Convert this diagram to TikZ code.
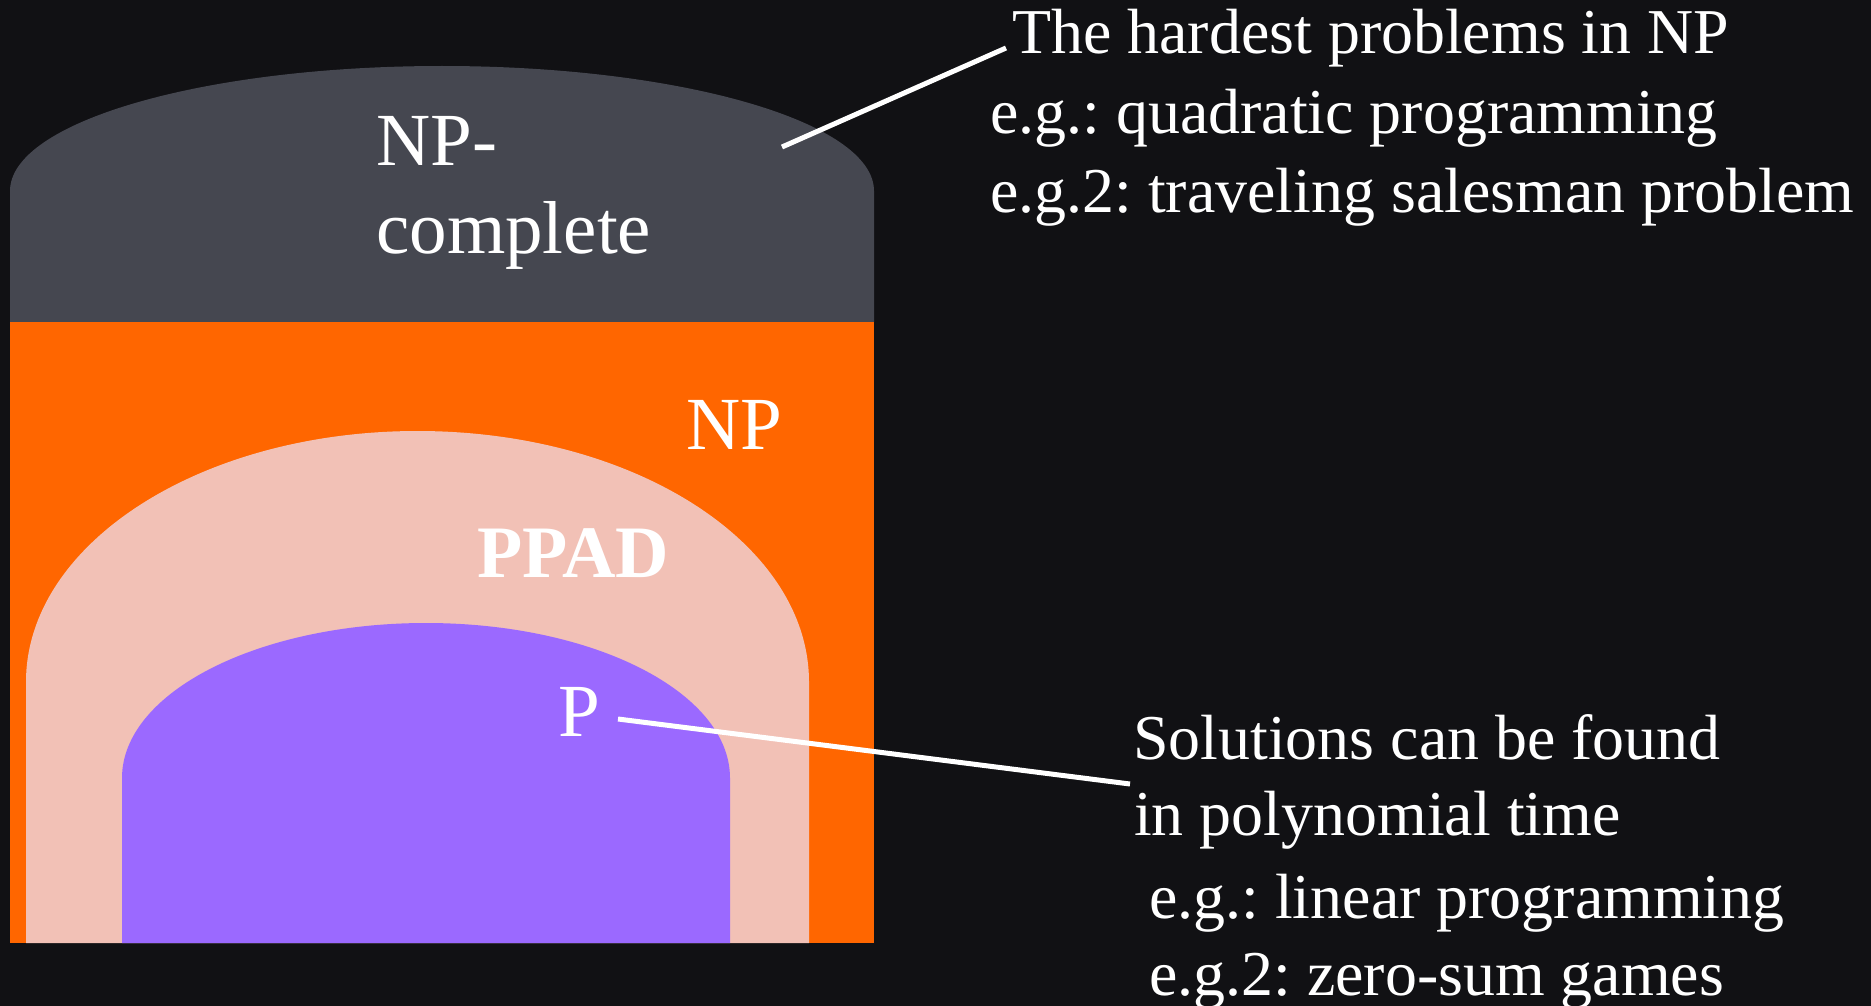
\documentclass[tikz,border=0pt]{standalone}
\usepackage{fontspec}
\setmainfont{Liberation Serif}
\definecolor{bgc}{RGB}{17,17,20}
\definecolor{npcgray}{RGB}{69,71,80}
\definecolor{nporange}{RGB}{255,102,0}
\definecolor{ppadpink}{RGB}{242,193,182}
\definecolor{ppurple}{RGB}{155,105,255}
\begin{document}
\frenchspacing
\begin{tikzpicture}[x=1pt,y=-1pt,
  lbl/.style={text=white, inner sep=0pt, anchor=base west, font=\fontsize{75}{80}\selectfont},
  lblbold/.style={lbl, font=\fontsize{74}{80}\selectfont\bfseries},
  note/.style={text=white, inner sep=0pt, anchor=base west, font=\fontsize{63.9}{70}\selectfont},
  leader/.style={draw=white, line width=5pt}]
\fill[bgc] (0,0) rectangle (1871,1006);
\useasboundingbox (0,0) rectangle (1871,1006);
% NP-complete dome
\fill[npcgray] (10,322) -- (10,191) arc[start angle=180, end angle=0, x radius=432pt, y radius=125pt] -- (874,322) -- cycle;
% NP
\fill[nporange] (10,322) rectangle (874,943);
% PPAD
\fill[ppadpink] (26,943) -- (26,682) arc[start angle=180, end angle=0, x radius=391.5pt, y radius=251pt] -- (809,943) -- cycle;
% P
\fill[ppurple] (122,943) -- (122,778) arc[start angle=180, end angle=0, x radius=304pt, y radius=155pt] -- (730,943) -- cycle;
% labels
\node[lbl] (npc1) at (376,165) {NP-};
\node[lbl] (npc2) at (376,253) {complete};
\node[lbl] (np) at (686,449) {NP};
\node[lblbold] (ppad) at (477,577) {PPAD};
\node[lbl] (p) at (558,736) {P};
% notes
\node[note] (h1) at (1012,54) {The hardest problems in NP};
\node[note] (h2) at (990,134) {e.g.: quadratic programming};
\node[note] (h3) at (990,212) {e.g.2: traveling salesman problem};
\node[note] (s1) at (1133,759) {Solutions can be found};
\node[note] (s2) at (1134,835) {in polynomial time};
\node[note] (s3) at (1149,918) {e.g.: linear programming};
\node[note] (s4) at (1149,995) {e.g.2: zero-sum games};
% leaders
\coordinate (a1) at (782,147);
\coordinate (a2) at (1006,48);
\draw[leader] (a1) -- (a2);
\coordinate (b1) at (618,719);
\coordinate (b2) at (1130,784);
\draw[leader] (b1) -- (b2);
\end{tikzpicture}
\end{document}
